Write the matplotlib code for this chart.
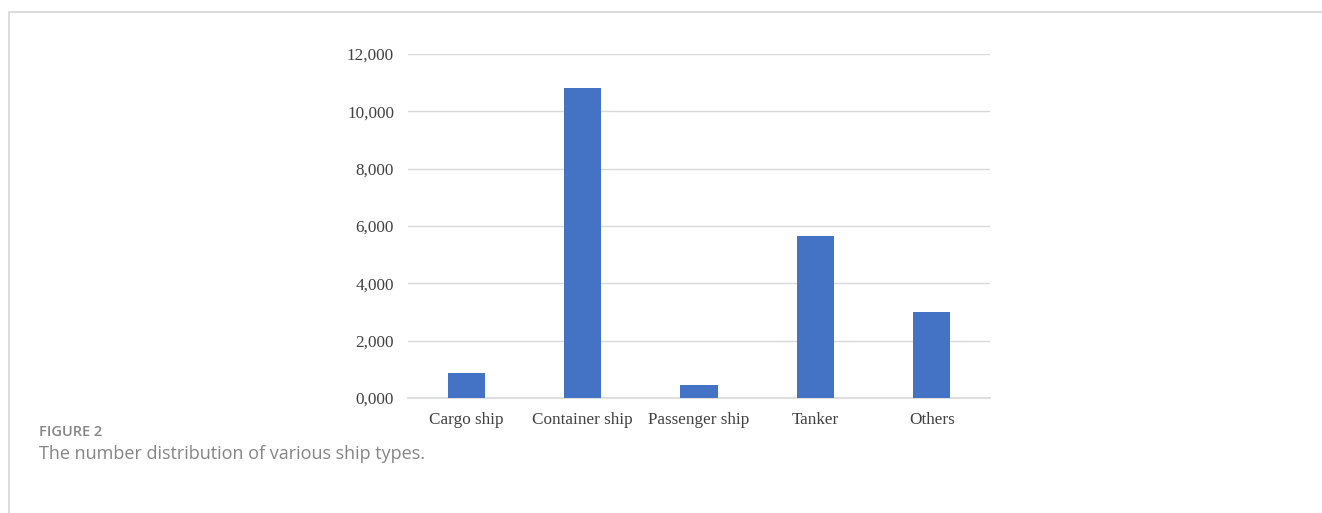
import matplotlib.pyplot as plt
from matplotlib.patches import Rectangle
from matplotlib.ticker import FuncFormatter

# ship type counts
categories = ['Cargo ship', 'Container ship', 'Passenger ship', 'Tanker', 'Others']
counts = [870, 10820, 450, 5660, 3000]
yticks = [0, 2000, 4000, 6000, 8000, 10000, 12000]

fig = plt.figure(figsize=(13.22, 5.13), dpi=100)

# outer frame (left and top edges visible)
fig.add_artist(Rectangle((9 / 1322, -0.01), 1.1, 1 - 12 / 513 + 0.01,
                         transform=fig.transFigure, fill=False,
                         edgecolor='#d6d6d6', linewidth=1.2))

ax = fig.add_axes([408 / 1322, 1 - 398 / 513, 582 / 1322, 344 / 513])
x = range(len(categories))
ax.bar(x, counts, width=0.32, color='#4472C4', zorder=3)

ax.set_xlim(-0.5, len(categories) - 0.5)
ax.set_ylim(0, 12000)
ax.set_yticks(yticks)
ax.yaxis.set_major_formatter(FuncFormatter(lambda v, p: '{:d},{:03d}'.format(int(v) // 1000, int(v) % 1000)))
ax.set_xticks(list(x))
ax.set_xticklabels(categories)
ax.grid(axis='y', color='#d9d9d9', linewidth=1, zorder=0)
ax.axhline(0, color='#d9d9d9', linewidth=1.2, zorder=2, clip_on=False)
for s in ['top', 'right', 'left', 'bottom']:
    ax.spines[s].set_visible(False)
ax.tick_params(length=0, labelsize=12.3, colors='#404040', pad=10)
for lab in ax.get_xticklabels() + ax.get_yticklabels():
    lab.set_fontfamily('Liberation Serif')

fig.text(39 / 1322, 1 - 432 / 513, 'FIGURE 2', fontsize=10.5, color='#858585',
         family='Open Sans', va='center', fontweight='semibold')
fig.text(39 / 1322, 1 - 454 / 513, 'The number distribution of various ship types.',
         fontsize=13, color='#858585', family='Open Sans', va='center')

fig.savefig('out.png', dpi=100)
